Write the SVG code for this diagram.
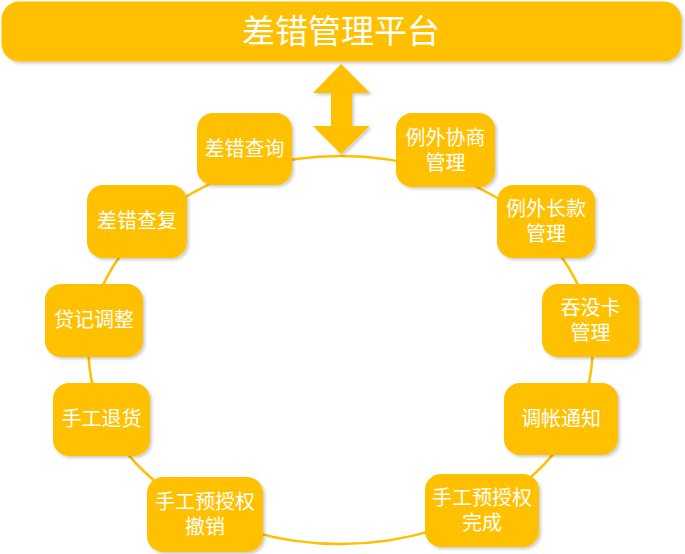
<svg xmlns="http://www.w3.org/2000/svg" width="685" height="554" viewBox="0 0 685 554">
<defs>
<filter id="sh" x="-10%" y="-10%" width="130%" height="130%">
<feDropShadow dx="2" dy="2" stdDeviation="1.5" flood-color="#000" flood-opacity="0.2"/>
</filter>
</defs>
<style>
.n{fill:#FFC000;filter:url(#sh)}
.t{fill:#fff;font-family:"Noto Sans CJK SC","Noto Sans CJK JP",sans-serif;font-size:20px;text-anchor:middle}
.title{font-size:33px}
</style>
<rect width="685" height="554" fill="#fff"/>
<g id="platform">
<rect class="n" x="1.5" y="1.5" width="680" height="60" rx="18"/>
<text class="t title" x="341" y="43">差错管理平台</text>
</g>
<g id="connectors">
<ellipse cx="340.5" cy="350" rx="252" ry="194" fill="none" stroke="#FFC000" stroke-width="2.5"/>
<polygon fill="#FFC000" filter="url(#sh)" points="341,64 370,93 352,93 352,126 370,126 341,154 313,126 331,126 331,93 313,93"/>
</g>
<g id="n1"><rect class="n" x="197" y="113" width="95" height="72" rx="16"/><text class="t" x="244.5" y="156">差错查询</text></g>
<g id="n2"><rect class="n" x="396" y="113" width="99" height="74" rx="16"/><text class="t" x="445.5" y="145">例外协商<tspan x="445.5" dy="25">管理</tspan></text></g>
<g id="n3"><rect class="n" x="87" y="185" width="100" height="73" rx="16"/><text class="t" x="137" y="228">差错查复</text></g>
<g id="n4"><rect class="n" x="497" y="185" width="98" height="73" rx="16"/><text class="t" x="546" y="216">例外长款<tspan x="546" dy="25">管理</tspan></text></g>
<g id="n5"><rect class="n" x="45" y="284" width="98" height="73" rx="16"/><text class="t" x="94" y="327">贷记调整</text></g>
<g id="n6"><rect class="n" x="542" y="284" width="97" height="73" rx="16"/><text class="t" x="590.5" y="315">吞没卡<tspan x="590.5" dy="25">管理</tspan></text></g>
<g id="n7"><rect class="n" x="53" y="383" width="97" height="73" rx="16"/><text class="t" x="101.5" y="426">手工退货</text></g>
<g id="n8"><rect class="n" x="504" y="383" width="114" height="72" rx="16"/><text class="t" x="561" y="426">调帐通知</text></g>
<g id="n9"><rect class="n" x="147" y="477" width="116" height="75" rx="16"/><text class="t" x="205" y="509">手工预授权<tspan x="205" dy="25">撤销</tspan></text></g>
<g id="n10"><rect class="n" x="425" y="474" width="114" height="73" rx="16"/><text class="t" x="482" y="505">手工预授权<tspan x="482" dy="25">完成</tspan></text></g>
</svg>
